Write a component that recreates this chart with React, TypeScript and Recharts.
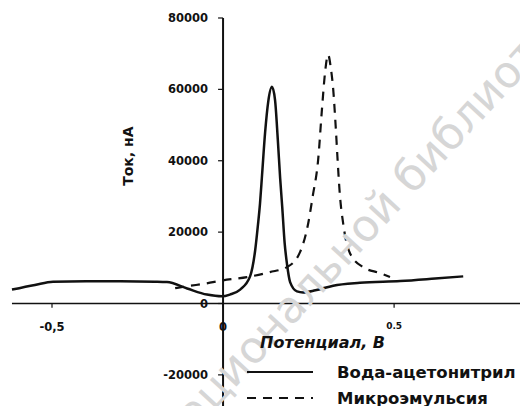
import { Legend, Line, LineChart, ReferenceDot, ReferenceLine, XAxis, YAxis } from "recharts";

// Вода-ацетонитрил (solid)
const waterX = [
  -0.617, -0.55, -0.497, -0.4, -0.3, -0.2, -0.164, -0.105, -0.047, -0.003, 0.02, 0.05, 0.079, 0.094, 0.102,
  0.108, 0.114, 0.123, 0.132, 0.143, 0.152, 0.16, 0.167, 0.173, 0.18, 0.187, 0.196, 0.216, 0.234, 0.27, 0.322,
  0.4, 0.518, 0.62, 0.702,
];
const waterY = [
  3900, 5200, 6100, 6200, 6200, 6100, 6000, 4200, 2500, 2000, 2500, 3900, 7600, 15000, 22000, 28000, 36000,
  48000, 56500, 60700, 57000, 46000, 35000, 27000, 17000, 11000, 6000, 3400, 3100, 3700, 5000, 5800, 6300, 7000,
  7600,
];

// Микроэмульсия (dashed)
const microX = [
  -0.14, -0.1, -0.05, 0.0, 0.07, 0.137, 0.187, 0.225, 0.249, 0.262, 0.278, 0.289, 0.298, 0.307, 0.315, 0.322,
  0.329, 0.335, 0.341, 0.351, 0.371, 0.409, 0.459, 0.488,
];
const microY = [
  4300, 4900, 5600, 6500, 7400, 8800, 10200, 14400, 22500, 30000, 40300, 54300, 64600, 69700, 66000, 60000, 50000,
  40000, 31000, 22500, 14100, 10200, 8500, 7400,
];

const seriesNames = ["Вода-ацетонитрил", "Микроэмульсия"];
const seriesDash = ["", "9 7"];

const yTicks = [80000, 60000, 40000, 20000, 0, -20000];
const xTicks = [-0.5, 0, 0.5];
const xTickLabels = ["-0,5", "0", "0.5"];

const X_DOMAIN: [number, number] = [-0.652, 0.868];
const Y_DOMAIN: [number, number] = [-28720, 85040];

const toPoints = (xs: number[], ys: number[]) => xs.map((x, i) => ({ x, y: ys[i] }));

const waterData = toPoints(waterX, waterY);
const microData = toPoints(microX, microY);

const INK = "#111111";
const FONT = "DejaVu Sans";

const tickLabel = { fill: INK, fontSize: 11.5, fontWeight: 700, fontFamily: FONT };

const LegendBox = () => (
  <div style={{ fontFamily: FONT, fontWeight: 700, fontSize: 16.5, color: INK, whiteSpace: "nowrap" }}>
    {seriesNames.map((name, i) => (
      <div key={name} style={{ display: "flex", alignItems: "center", height: 26 }}>
        <svg height={10} style={{ marginRight: 22, flex: "none" }} width={70}>
          <line stroke={INK} strokeDasharray={seriesDash[i]} strokeWidth={2} x1={2} x2={68} y1={5} y2={5} />
        </svg>
        <span>{name}</span>
      </div>
    ))}
  </div>
);

export default function App() {
  return (
    <div style={{ position: "absolute", left: 0, top: 0, width: 520, height: 406, background: "#fff" }}>
      <LineChart height={406} margin={{ top: 0, right: 0, bottom: 0, left: 0 }} width={520}>
        <XAxis allowDataOverflow dataKey="x" domain={X_DOMAIN} hide type="number" />
        <YAxis allowDataOverflow domain={Y_DOMAIN} hide type="number" />

        {/* scan watermark */}
        <ReferenceDot
          fill="none"
          ifOverflow="visible"
          label={{
            value: "национальной библиотеки",
            position: "right",
            offset: 0,
            angle: -47.3,
            fill: "#d6d6d6",
            fontSize: 44,
            fontFamily: FONT,
          }}
          r={0}
          stroke="none"
          x={-0.172}
          y={-38750}
        />

        {/* axes crossing at the origin */}
        <ReferenceLine
          ifOverflow="visible"
          segment={[{ x: -0.617, y: 0 }, { x: X_DOMAIN[1], y: 0 }]}
          stroke={INK}
          strokeWidth={1.6}
        />
        <ReferenceLine
          ifOverflow="visible"
          segment={[{ x: 0, y: Y_DOMAIN[0] }, { x: 0, y: 80000 }]}
          stroke={INK}
          strokeWidth={2}
        />

        {yTicks.map((v) => (
          <ReferenceLine
            ifOverflow="visible"
            key={`y${v}`}
            label={{ value: String(v), position: "left", offset: 10, ...tickLabel }}
            segment={[{ x: -0.0146, y: v }, { x: 0, y: v }]}
            stroke={INK}
            strokeWidth={1.2}
          />
        ))}
        {xTicks.map((v, i) => (
          <ReferenceLine
            ifOverflow="visible"
            key={`x${v}`}
            label={{
              value: xTickLabels[i],
              position: "bottom",
              offset: 15,
              ...tickLabel,
              fontSize: v === 0.5 ? 9 : 11.5,
            }}
            segment={[{ x: v, y: 0 }, { x: v, y: -1200 }]}
            stroke={INK}
            strokeWidth={1.2}
          />
        ))}

        <ReferenceDot
          fill="none"
          ifOverflow="visible"
          label={{
            value: "Ток, нА",
            position: "center",
            angle: -90,
            fill: INK,
            fontSize: 14,
            fontWeight: 700,
            fontFamily: FONT,
          }}
          r={0}
          stroke="none"
          x={-0.278}
          y={41300}
        />
        <ReferenceDot
          fill="none"
          ifOverflow="visible"
          label={{
            value: "Потенциал, В",
            position: "right",
            offset: 0,
            fill: INK,
            fontSize: 16,
            fontWeight: 700,
            fontStyle: "italic",
            fontFamily: FONT,
          }}
          r={0}
          stroke="none"
          x={0.108}
          y={-10800}
        />

        <Line
          activeDot={false}
          data={waterData}
          dataKey="y"
          dot={false}
          isAnimationActive={false}
          name={seriesNames[0]}
          stroke={INK}
          strokeWidth={2.5}
          type="monotone"
        />
        <Line
          activeDot={false}
          data={microData}
          dataKey="y"
          dot={false}
          isAnimationActive={false}
          name={seriesNames[1]}
          stroke={INK}
          strokeDasharray={seriesDash[1]}
          strokeWidth={2.2}
          type="monotone"
        />

        <Legend
          align="center"
          content={<LegendBox />}
          layout="vertical"
          verticalAlign="middle"
          wrapperStyle={{ position: "absolute", left: 245, top: 359, width: 275 }}
        />
      </LineChart>
    </div>
  );
}
